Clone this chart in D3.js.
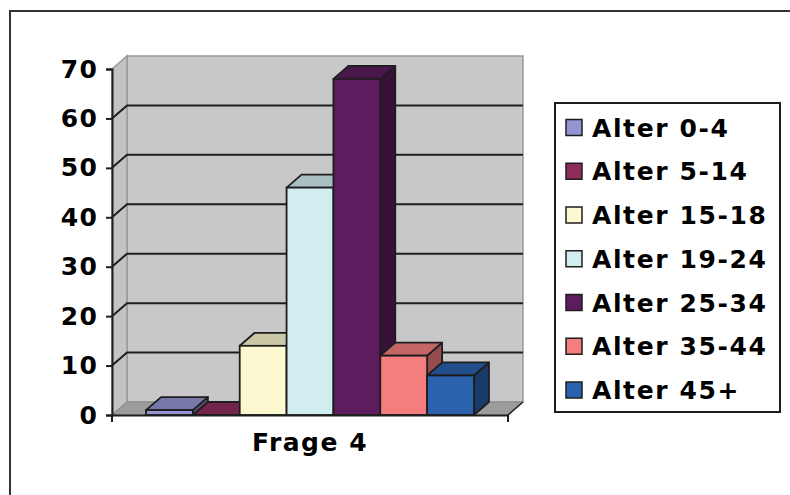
<!DOCTYPE html>
<html>
<head>
<meta charset="utf-8">
<script src="https://cdn.jsdelivr.net/npm/d3@7"></script>
<style>
  body { margin: 0; background: #fff; }
  svg { display: block; }
  text { font-family: "DejaVu Sans", Verdana, sans-serif; font-weight: bold; fill: #000; }
</style>
</head>
<body>
<svg id="chart" width="790" height="495"></svg>
<script>
// DATA
const categories = ["Frage 4"];
const seriesNames = ["Alter 0-4", "Alter 5-14", "Alter 15-18", "Alter 19-24",
                     "Alter 25-34", "Alter 35-44", "Alter 45+"];
const seriesValues = [1, 0, 14, 46, 68, 12, 8];
const yTicks = [0, 10, 20, 30, 40, 50, 60, 70];
const seriesColors = ["#9494d2", "#8e2c5c", "#fcf8cf", "#d2edf0",
                      "#5c1c5e", "#f47e7e", "#2a62ae"];

// SETUP
const svg = d3.select("#chart");
const plot = { left: 112, right: 508, top: 69, bottom: 415 };
const depth = { dx: 15, dy: -13 };   // 3d offset of the back wall

const y = d3.scaleLinear().domain([0, 70]).range([plot.bottom, plot.top]);
const x0 = d3.scaleBand().domain(categories)
    .range([plot.left, plot.right])
    .padding(0.094);
const x1 = d3.scaleBand().domain(seriesNames)
    .range([0, x0.bandwidth()])
    .padding(0);

const poly = pts => "M" + pts.map(p => p.join(",")).join("L") + "Z";

// outer frame (only top and left are visible)
svg.append("path")
    .attr("d", "M10,495 L10,11 L790,11")
    .attr("fill", "none")
    .attr("stroke", "#333")
    .attr("stroke-width", 2);

// WALLS
const b = plot.bottom, t = plot.top, L = plot.left, R = plot.right;
const dx = depth.dx, dy = depth.dy;

// back wall
svg.append("rect")
    .attr("x", L + dx).attr("y", t + dy)
    .attr("width", R - L).attr("height", b - t)
    .attr("fill", "#c8c8ca")
    .attr("stroke", "#9a9a9a")
    .attr("stroke-width", 1.5);

// side wall
svg.append("path")
    .attr("d", poly([[L, t], [L + dx, t + dy], [L + dx, b + dy], [L, b]]))
    .attr("fill", "#c3c3c5")
    .attr("stroke", "#9a9a9a")
    .attr("stroke-width", 1.5);

// floor
svg.append("path")
    .attr("d", poly([[L, b], [R, b], [R + dx, b + dy], [L + dx, b + dy]]))
    .attr("fill", "#9c9c9e")
    .attr("stroke", "#8a8a8a")
    .attr("stroke-width", 1);

// gridlines on back and side wall
const grid = yTicks.filter(d => d > 0 && d < 70);
svg.append("g").selectAll("path")
    .data(grid)
    .join("path")
    .attr("d", d => `M${L},${y(d)} L${L + dx},${y(d) + dy} L${R + dx},${y(d) + dy}`)
    .attr("fill", "none")
    .attr("stroke", "#1e1e1e")
    .attr("stroke-width", 2);

// floor front-right edge
svg.append("path")
    .attr("d", `M${R},${b} L${R + dx},${b + dy}`)
    .attr("stroke", "#1e1e1e")
    .attr("stroke-width", 1.5);

// BARS
const data = seriesNames.map((name, i) => ({ name, value: seriesValues[i], color: seriesColors[i] }));
const bars = svg.append("g").selectAll("g")
    .data(data)
    .join("g");

bars.each(function (d) {
    const g = d3.select(this);
    const xa = x0(categories[0]) + x1(d.name);
    const xb = xa + x1.bandwidth();
    const yt = y(d.value);
    const c = d3.color(d.color);
    // side face
    g.append("path")
        .attr("d", poly([[xb, yt], [xb + dx, yt + dy], [xb + dx, b + dy], [xb, b]]))
        .attr("fill", c.darker(1.4))
        .attr("stroke", "#1e1e1e").attr("stroke-width", 1.8)
        .attr("stroke-linejoin", "round");
    // top face
    g.append("path")
        .attr("d", poly([[xa, yt], [xb, yt], [xb + dx, yt + dy], [xa + dx, yt + dy]]))
        .attr("fill", c.darker(0.6))
        .attr("stroke", "#1e1e1e").attr("stroke-width", 1.8)
        .attr("stroke-linejoin", "round");
    // front face
    if (d.value > 0) {
        g.append("rect")
            .attr("x", xa).attr("y", yt)
            .attr("width", xb - xa).attr("height", b - yt)
            .attr("fill", d.color)
            .attr("stroke", "#1e1e1e").attr("stroke-width", 1.8);
    }
});

// AXES
const yAxis = svg.append("g")
    .attr("transform", `translate(${L},0)`)
    .call(d3.axisLeft(y).tickValues(yTicks).tickSize(6).tickPadding(8));
yAxis.select(".domain").attr("stroke", "#1e1e1e").attr("stroke-width", 2);
yAxis.selectAll(".tick line").attr("stroke", "#1e1e1e").attr("stroke-width", 2);
yAxis.selectAll(".tick text")
    .attr("font-family", "DejaVu Sans, Verdana, sans-serif")
    .attr("font-weight", "bold")
    .attr("font-size", 25)
    .attr("letter-spacing", 1.2)
    .attr("fill", "#000");

const xAxis = svg.append("g")
    .attr("transform", `translate(0,${b})`)
    .call(d3.axisBottom(x0).tickSize(0).tickPadding(18));
xAxis.select(".domain").attr("stroke", "#1e1e1e").attr("stroke-width", 2);
xAxis.selectAll(".tick text")
    .attr("font-family", "DejaVu Sans, Verdana, sans-serif")
    .attr("font-weight", "bold")
    .attr("font-size", 25)
    .attr("letter-spacing", 1.5)
    .attr("fill", "#000");
// category boundary tick marks
svg.append("g").selectAll("line")
    .data([L, R])
    .join("line")
    .attr("x1", d => d).attr("x2", d => d)
    .attr("y1", b).attr("y2", b + 7)
    .attr("stroke", "#1e1e1e")
    .attr("stroke-width", 2);

// LEGEND
const legend = svg.append("g").attr("transform", "translate(555,103)");
legend.append("rect")
    .attr("width", 225).attr("height", 309)
    .attr("fill", "#fff")
    .attr("stroke", "#1e1e1e")
    .attr("stroke-width", 2);
const item = legend.selectAll("g.item")
    .data(data)
    .join("g")
    .attr("class", "item")
    .attr("transform", (d, i) => `translate(0,${24.5 + i * 43.75})`);
item.append("rect")
    .attr("x", 11).attr("y", -8)
    .attr("width", 16).attr("height", 16)
    .attr("fill", d => d.color)
    .attr("stroke", "#1e1e1e")
    .attr("stroke-width", 1.5);
item.append("text")
    .attr("x", 37).attr("y", 9)
    .attr("font-size", 25)
    .attr("letter-spacing", 1.6)
    .text(d => d.name);
</script>
</body>
</html>
